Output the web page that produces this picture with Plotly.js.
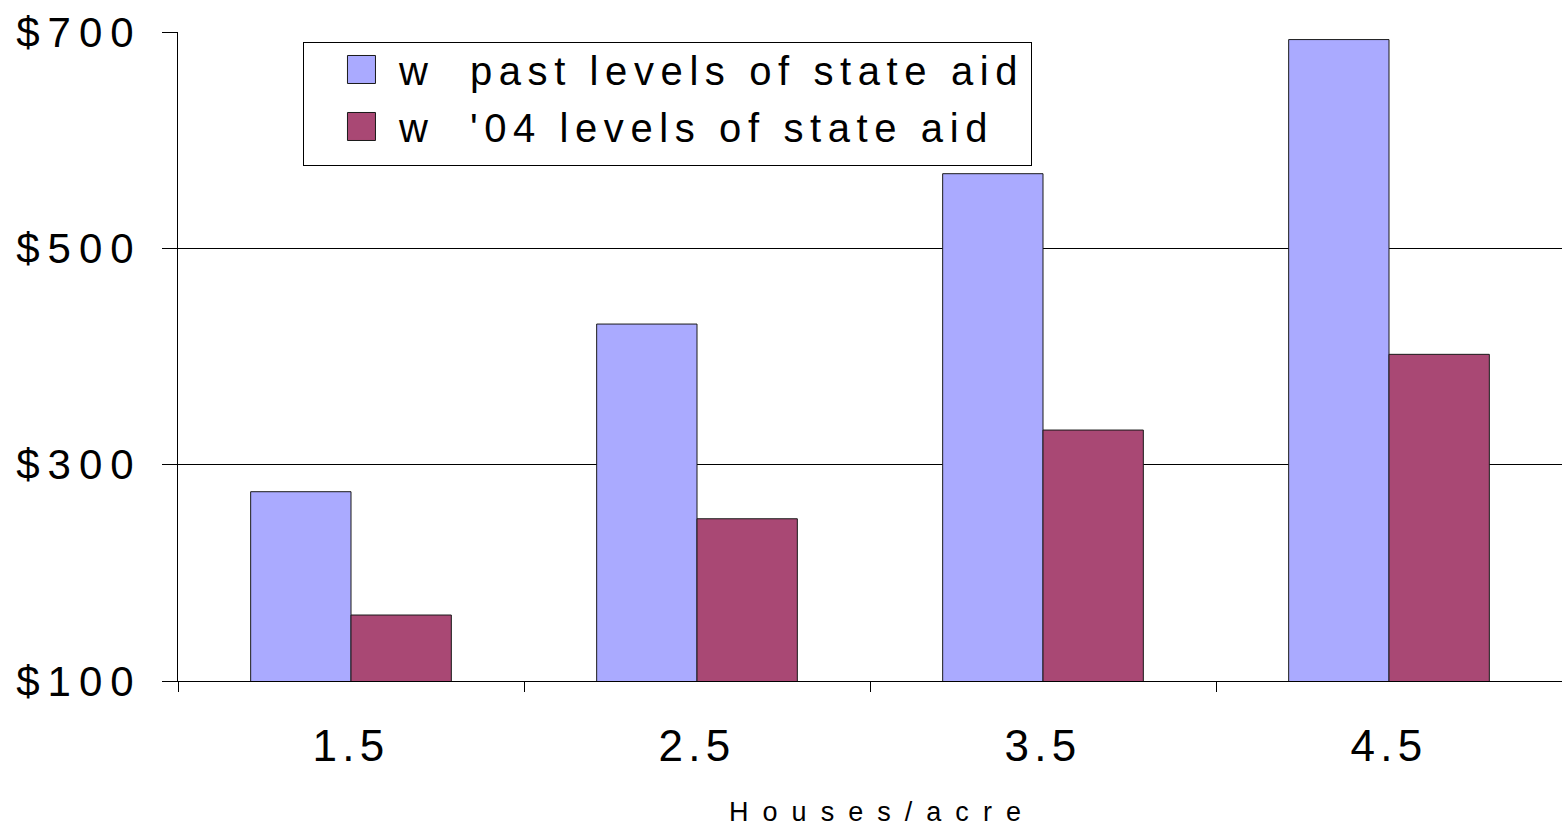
<!DOCTYPE html>
<html><head><meta charset="utf-8">
<script src="https://cdn.plot.ly/plotly-3.0.1.min.js"></script>
<style>
html,body{margin:0;padding:0;background:#fff;}
#chart{width:1562px;height:827px;}
.ytick text{letter-spacing:0.19em;}
.xtick text{letter-spacing:0.12em;}
.legendtext{letter-spacing:0.165em;}
.xtitle{letter-spacing:0.52em;}
</style></head><body><div id="chart"></div>
<script>
const categories = ['1.5', '2.5', '3.5', '4.5'];
const seriesNames = ['w  past levels of state aid', "w  '04 levels of state aid"];
const pastAid = [275, 430, 569, 693];
const aid04 = [161, 250, 332, 402];
const yTickVals = [100, 300, 500, 700];
const yTickText = ['$100', '$300', '$500', '$700'];
const xTitle = 'Houses/acre';

const FONT = 'Liberation Sans, Arial, sans-serif';

const traces = [
  {type: 'bar', x: categories, y: pastAid, name: seriesNames[0], legendgroup: 'g1',
   marker: {color: '#AAAAFF', line: {color: '#1a1a1a', width: 1}}},
  {type: 'bar', x: categories, y: aid04, name: seriesNames[1], legendgroup: 'g2',
   marker: {color: '#A94874', line: {color: '#1a1a1a', width: 1}}}
];

const layout = {
  width: 1562, height: 827,
  margin: {l: 178, r: 0, t: 32, b: 146, pad: 0},
  paper_bgcolor: '#fff', plot_bgcolor: '#fff',
  font: {family: FONT, color: '#000'},
  barmode: 'group', bargap: 0.42, bargroupgap: 0,
  showlegend: true,
  legend: {x: 0.0903, y: 0.9846, xanchor: 'left', yanchor: 'top',
    bordercolor: '#000', borderwidth: 1, bgcolor: '#fff',
    font: {family: FONT, size: 40, color: '#000'}, itemwidth: 85,
    traceorder: 'grouped', tracegroupgap: 2},
  xaxis: {type: 'category', tickson: 'boundaries', ticks: 'outside', ticklen: 10,
    tickcolor: '#000', tickwidth: 1, showline: true, linecolor: '#000', linewidth: 1,
    showgrid: false, tickfont: {family: FONT, size: 44, color: '#000'},
    ticklabelstandoff: 26,
    title: {text: xTitle, font: {family: FONT, size: 27, color: '#000'}, standoff: 36}},
  yaxis: {range: [100, 700], tickvals: yTickVals, ticktext: yTickText,
    ticks: 'outside', ticklen: 15, tickcolor: '#000', tickwidth: 1,
    showline: true, linecolor: '#000', linewidth: 1,
    showgrid: true, gridcolor: '#000', gridwidth: 1, zeroline: false,
    tickfont: {family: FONT, size: 42, color: '#000'}, ticklabelstandoff: 12}
};

Plotly.newPlot('chart', traces, layout, {displayModeBar: false, staticPlot: true}).then(function(gd){
  gd.querySelectorAll('.legend .legendpoints path').forEach(function(p){
    p.setAttribute('d', 'M24,14H-4V-14H24Z');
  });
  gd.querySelectorAll('.legend .traces').forEach(function(t){
    var tr = t.getAttribute('transform') || '';
    var m = tr.match(/translate\(\s*([-\d.eE]+)[,\s]+([-\d.eE]+)\s*\)/);
    if (m) t.setAttribute('transform', 'translate(' + m[1] + ',' + (parseFloat(m[2]) - 6) + ')');
  });
  var xt = gd.querySelector('.xtitle');
  if (xt) {
    var x0 = parseFloat(xt.getAttribute('x'));
    if (!isNaN(x0)) xt.setAttribute('x', x0 + 12);
  }
});
</script></body></html>
